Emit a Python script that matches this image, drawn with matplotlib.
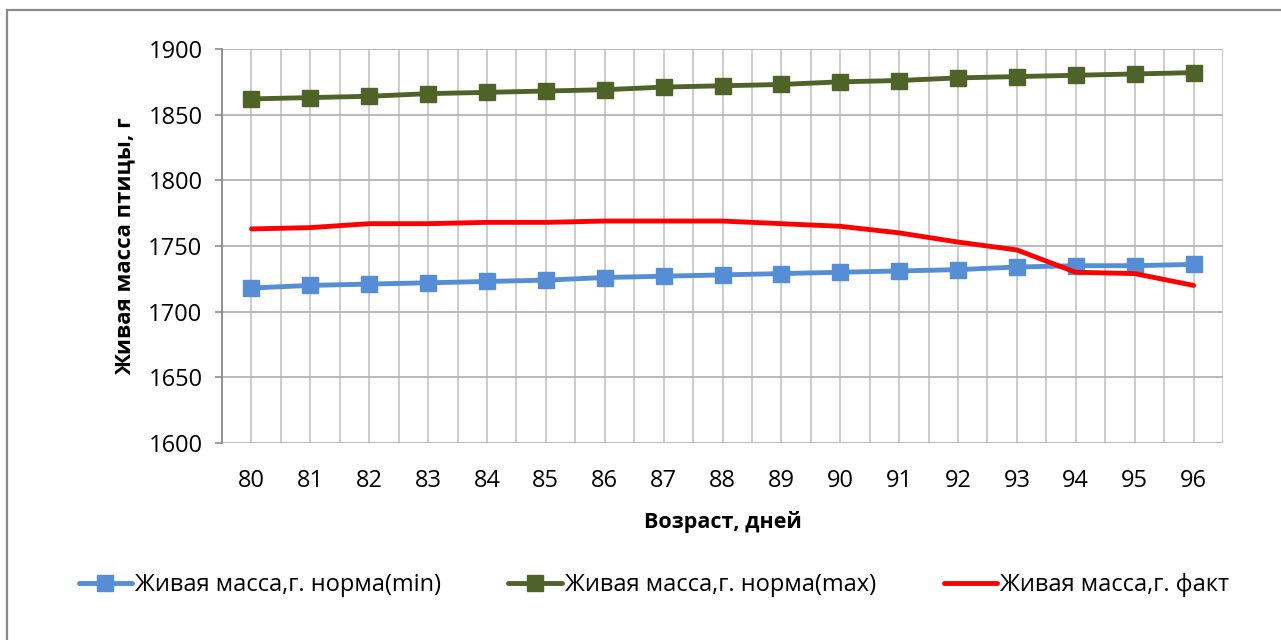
import matplotlib
matplotlib.use("Agg")
import matplotlib.pyplot as plt
from matplotlib.patches import Rectangle
import numpy as np

plt.rcParams['font.family'] = ['Open Sans', 'DejaVu Sans']

days = ["80", "81", "82", "83", "84", "85", "86", "87", "88", "89", "90",
        "91", "92", "93", "94", "95", "96"]
norm_min = [1718, 1720, 1721, 1722, 1723, 1724, 1726, 1727, 1728, 1729,
            1730, 1731, 1732, 1734, 1735, 1735, 1736]
norm_max = [1862, 1863, 1864, 1866, 1867, 1868, 1869, 1871, 1872, 1873,
            1875, 1876, 1878, 1879, 1880, 1881, 1882]
fact = [1763, 1764, 1767, 1767, 1768, 1768, 1769, 1769, 1769, 1767,
        1765, 1760, 1753, 1747, 1730, 1729, 1720]

labels = ["Живая масса,г. норма(min)", "Живая масса,г. норма(max)",
          "Живая масса,г. факт"]

fig = plt.figure(figsize=(12.81, 6.4), dpi=100)
ax = fig.add_axes([222 / 1281, 1 - 443 / 640, 1001 / 1281, 394 / 640])

x = np.arange(len(days))
ax.plot(x, norm_min, color="#558ED5", lw=3.5, marker="s", ms=11,
        label=labels[0], solid_capstyle="round")
ax.plot(x, norm_max, color="#4F6228", lw=3.5, marker="s", ms=11,
        label=labels[1], solid_capstyle="round")
ax.plot(x, fact, color="#FF0000", lw=3.5, label=labels[2],
        solid_capstyle="round")

ax.set_xlim(-0.5, len(days) - 0.5)
ax.set_ylim(1600, 1900)
ax.set_yticks(np.arange(1600, 1901, 50))
ax.set_xticks(x)
ax.set_xticklabels(days)
ax.set_xticks(np.arange(-0.5, len(days), 1.0), minor=True)

ax.grid(axis="y", which="major", color="#b4b4b4", lw=1.3)
ax.grid(axis="x", which="both", color="#c8c8c8", lw=1.3)
ax.set_axisbelow(True)

for side in ("top", "right", "bottom"):
    ax.spines[side].set_visible(False)
ax.spines["left"].set_color("#8c8c8c")
ax.spines["left"].set_linewidth(1.3)

ax.tick_params(axis="y", length=5, width=1.2, color="#8c8c8c",
               labelsize=17, pad=9)
ax.tick_params(axis="x", which="both", length=0, labelsize=17, pad=19)

ax.set_ylabel("Живая масса птицы, г", fontsize=16, fontweight="bold",
              labelpad=9)
ax.set_xlabel("Возраст, дней", fontsize=15.5, fontweight="bold", labelpad=13)

fig.legend(loc="center", bbox_to_anchor=(0.5105, 1 - 585 / 640), ncol=3,
           frameon=False, fontsize=17, handlelength=2.25, handletextpad=0.15,
           columnspacing=2.85)

fig.patches.append(Rectangle((7 / 1281, -0.1), 1.2, 1 - 10 / 640 + 0.1,
                             transform=fig.transFigure, fill=False,
                             edgecolor="#8a8a8a", lw=1.6))

fig.savefig("out.png", dpi=100)
